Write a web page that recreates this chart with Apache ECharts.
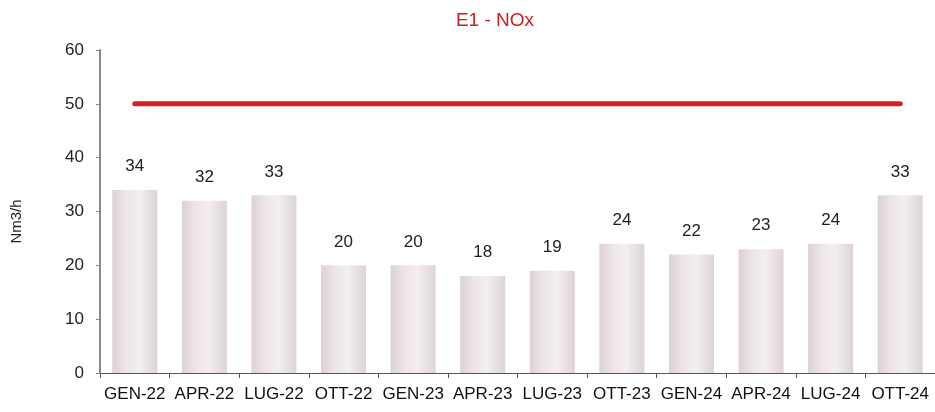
<!DOCTYPE html>
<html><head><meta charset="utf-8">
<script src="https://cdn.jsdelivr.net/npm/echarts@6/dist/echarts.min.js"></script>
<style>html,body{margin:0;padding:0;background:#fff}#c{width:935px;height:412px}</style>
</head><body><div id="c"></div>
<script>
const categories = ['GEN-22','APR-22','LUG-22','OTT-22','GEN-23','APR-23','LUG-23','OTT-23','GEN-24','APR-24','LUG-24','OTT-24'];
const values = [34,32,33,20,20,18,19,24,22,23,24,33];
const limitValues = [50,50,50,50,50,50,50,50,50,50,50,50];
const yTicks = {min:0, max:60, interval:10};

const chart = echarts.init(document.getElementById('c'));
chart.setOption({
  animation:false,
  title:{text:'E1 - NOx', left:490, top:6, textAlign:'center',
    textStyle:{color:'#c8201e', fontSize:19, fontWeight:'normal', fontFamily:'Liberation Sans'}},
  grid:{left:100, right:0, top:50, bottom:39},
  xAxis:{type:'category', data:categories, boundaryGap:true,
    axisLine:{lineStyle:{color:'#555', width:1}},
    axisTick:{show:true, alignWithLabel:false, length:5, lineStyle:{color:'#555'}},
    axisLabel:{color:'#111', fontSize:17, margin:13, fontFamily:'Liberation Sans', interval:0}},
  yAxis:{type:'value', min:yTicks.min, max:yTicks.max, interval:yTicks.interval,
    name:'Nm3/h', nameLocation:'middle', nameGap:76, nameRotate:90,
    nameTextStyle:{color:'#222', fontSize:15, fontFamily:'Liberation Sans', padding:[0,0,0,-20]},
    axisLine:{show:true, lineStyle:{color:'#888', width:2}},
    axisTick:{show:true, length:4, lineStyle:{color:'#888'}},
    splitLine:{show:false},
    axisLabel:{color:'#222', fontSize:17, margin:16, fontFamily:'Liberation Sans'}},
  series:[
    {type:'bar', data:values, barWidth:45,
      itemStyle:{color:new echarts.graphic.LinearGradient(0,0,1,0,[
        {offset:0,color:'#dcd1d5'},{offset:0.3,color:'#ede5e8'},{offset:0.6,color:'#f3eef0'},{offset:1,color:'#dcd3d6'}])},
      label:{show:true, position:'top', distance:15, color:'#222', fontSize:17, fontFamily:'Liberation Sans'}},
    {type:'line', data:limitValues, symbol:'none',
      lineStyle:{color:'#d42020', width:5, cap:'round'}, z:5}
  ]
});
</script></body></html>
